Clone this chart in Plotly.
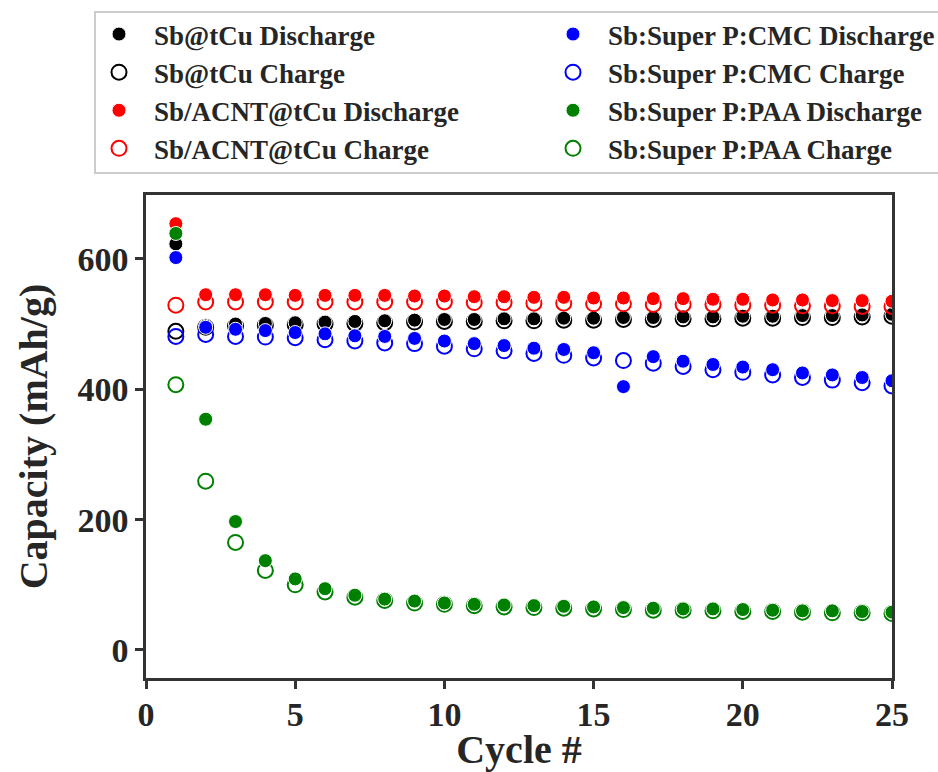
import plotly.graph_objects as go

cycles = list(range(1, 26))

tcu_dis = [623, 497, 500, 501, 502, 503, 504, 505, 506, 507, 507, 508, 508, 509, 509, 510, 510, 511, 511, 512, 512, 513, 513, 514, 515]
tcu_chg = [489, 495, 497, 498, 499, 500, 501, 502, 503, 504, 504, 505, 505, 506, 506, 507, 507, 508, 508, 509, 509, 510, 510, 511, 512]

acnt_dis = [654, 545, 545, 545, 544, 544, 544, 544, 543, 543, 542, 542, 541, 541, 540, 540, 539, 539, 538, 538, 537, 537, 536, 536, 535]
acnt_chg = [529, 534, 534, 534, 534, 534, 534, 534, 534, 534, 533, 533, 532, 532, 531, 531, 530, 530, 530, 529, 529, 528, 528, 527, 527]

cmc_dis = [602, 495, 492, 490, 487, 485, 482, 481, 478, 474, 470, 467, 463, 461, 456, 404, 450, 443, 438, 434, 430, 425, 422, 418, 413]
cmc_chg = [481, 484, 481, 480, 479, 476, 474, 471, 470, 466, 462, 459, 455, 452, 448, 444, 440, 435, 430, 426, 422, 418, 414, 410, 405]

paa_dis = [639, 354, 197, 137, 109, 94, 84, 78, 75, 72, 70, 69, 68, 67, 66, 65, 64, 63, 63, 62, 61, 60, 60, 59, 58]
paa_chg = [407, 259, 165, 122, 100, 89, 81, 76, 72, 70, 68, 66, 65, 64, 63, 62, 61, 61, 60, 59, 59, 58, 57, 57, 56]

series = [
    ("Sb@tCu", tcu_dis, tcu_chg, "#000000", "legend"),
    ("Sb/ACNT@tCu", acnt_dis, acnt_chg, "#ff0000", "legend"),
    ("Sb:Super P:CMC", cmc_dis, cmc_chg, "#0000ff", "legend2"),
    ("Sb:Super P:PAA", paa_dis, paa_chg, "#008000", "legend2"),
]

FONT = "Liberation Serif, Times New Roman, serif"

fig = go.Figure()
rank = 1
for name, dis, chg, col, leg in series:
    fig.add_trace(go.Scatter(
        x=cycles, y=chg, mode="markers", name=name + " Charge",
        marker=dict(symbol="circle-open", size=15, color=col, line=dict(width=2, color=col)),
        legend=leg, legendrank=rank + 1,
    ))
    fig.add_trace(go.Scatter(
        x=cycles, y=dis, mode="markers", name=name + " Discharge",
        marker=dict(symbol="circle", size=14, color=col, line=dict(width=1, color="white")),
        legend=leg, legendrank=rank,
    ))
    rank += 2

L, R, T, B = 146, 46, 195, 94
W, H = 938, 772
pw, ph = W - L - R, H - T - B

def px_x(p):
    return (p - L) / pw

def px_y(p):
    return (H - B - p) / ph

axis_common = dict(
    showline=True, linecolor="#333333", linewidth=2.5, mirror=True,
    ticks="outside", ticklen=8, tickwidth=2.5, tickcolor="#333333",
    showgrid=False, zeroline=False,
    tickfont=dict(family=FONT, size=34, color="#262626", weight="bold"),
)

legend_common = dict(
    yanchor="top", xanchor="left", bgcolor="rgba(0,0,0,0)", borderwidth=0,
    itemwidth=60, tracegroupgap=0,
    font=dict(family=FONT, size=27, color="#262626", weight="bold"),
)

fig.update_layout(
    width=W, height=H,
    margin=dict(l=L, r=R, t=T, b=B, autoexpand=False),
    paper_bgcolor="white", plot_bgcolor="white",
    font=dict(family=FONT, weight="bold", color="#262626"),
    xaxis=dict(range=[0, 25], tickvals=[0, 5, 10, 15, 20, 25], ticklabelstandoff=-4,
               title=dict(text="Cycle #", font=dict(family=FONT, size=40, weight="bold", color="#262626"), standoff=8),
               **axis_common),
    yaxis=dict(range=[-43, 698], tickvals=[0, 200, 400, 600],
               title=dict(text="Capacity (mAh/g)", font=dict(family=FONT, size=40, weight="bold", color="#262626"), standoff=18),
               **axis_common),
    legend=dict(x=px_x(84), y=px_y(10), **legend_common),
    legend2=dict(x=px_x(538), y=px_y(10), **legend_common),
    shapes=[dict(type="rect", xref="paper", yref="paper",
                 x0=px_x(95), x1=px_x(950), y0=px_y(173), y1=px_y(12),
                 line=dict(color="#cccccc", width=2), fillcolor="rgba(0,0,0,0)", layer="below")],
)

fig.write_html("out.html")
